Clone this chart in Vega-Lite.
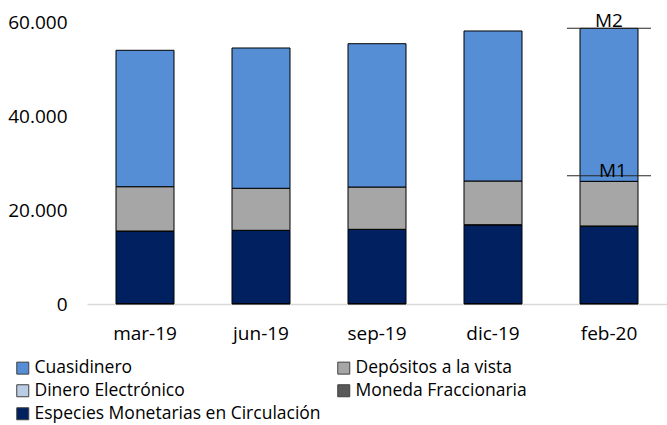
{
  "$schema": "https://vega.github.io/schema/vega-lite/v6.json",
  "width": 580,
  "height": 282,
  "autosize": {"type": "none"},
  "padding": {"left": 87, "top": 22, "right": 0, "bottom": 121},
  "config": {
    "locale": {"number": {"decimal": ",", "thousands": ".", "grouping": [3], "currency": ["$", ""]}},
    "view": {"stroke": null},
    "font": "Open Sans",
    "axis": {"grid": false, "ticks": false, "labelColor": "#000000", "labelFont": "Open Sans", "title": null}
  },
  "datasets": {
    "series": [
      {"fecha": "mar-19", "serie": "Especies Monetarias en Circulación", "valor": 15400},
      {"fecha": "mar-19", "serie": "Moneda Fraccionaria", "valor": 90},
      {"fecha": "mar-19", "serie": "Dinero Electrónico", "valor": 40},
      {"fecha": "mar-19", "serie": "Depósitos a la vista", "valor": 9430},
      {"fecha": "mar-19", "serie": "Cuasidinero", "valor": 29020},
      {"fecha": "jun-19", "serie": "Especies Monetarias en Circulación", "valor": 15550},
      {"fecha": "jun-19", "serie": "Moneda Fraccionaria", "valor": 90},
      {"fecha": "jun-19", "serie": "Dinero Electrónico", "valor": 40},
      {"fecha": "jun-19", "serie": "Depósitos a la vista", "valor": 8940},
      {"fecha": "jun-19", "serie": "Cuasidinero", "valor": 29850},
      {"fecha": "sep-19", "serie": "Especies Monetarias en Circulación", "valor": 15760},
      {"fecha": "sep-19", "serie": "Moneda Fraccionaria", "valor": 90},
      {"fecha": "sep-19", "serie": "Dinero Electrónico", "valor": 40},
      {"fecha": "sep-19", "serie": "Depósitos a la vista", "valor": 9000},
      {"fecha": "sep-19", "serie": "Cuasidinero", "valor": 30490},
      {"fecha": "dic-19", "serie": "Especies Monetarias en Circulación", "valor": 16740},
      {"fecha": "dic-19", "serie": "Moneda Fraccionaria", "valor": 90},
      {"fecha": "dic-19", "serie": "Dinero Electrónico", "valor": 40},
      {"fecha": "dic-19", "serie": "Depósitos a la vista", "valor": 9300},
      {"fecha": "dic-19", "serie": "Cuasidinero", "valor": 31920},
      {"fecha": "feb-20", "serie": "Especies Monetarias en Circulación", "valor": 16470},
      {"fecha": "feb-20", "serie": "Moneda Fraccionaria", "valor": 90},
      {"fecha": "feb-20", "serie": "Dinero Electrónico", "valor": 40},
      {"fecha": "feb-20", "serie": "Depósitos a la vista", "valor": 9500},
      {"fecha": "feb-20", "serie": "Cuasidinero", "valor": 32550}
    ],
    "marcas": [
      {"fecha": "feb-20", "etiqueta": "M2", "valor": 58650},
      {"fecha": "feb-20", "etiqueta": "M1", "valor": 27300}
    ]
  },
  "layer": [
    {
      "data": {"name": "series"},
      "mark": {"type": "bar", "stroke": "#000000", "strokeWidth": 1},
      "encoding": {
        "x": {
          "field": "fecha", "type": "nominal",
          "sort": ["mar-19", "jun-19", "sep-19", "dic-19", "feb-20"],
          "scale": {"paddingInner": 0.5, "paddingOuter": 0.25},
          "axis": {"labelAngle": 0, "labelFontSize": 19, "labelPadding": 20, "domainColor": "#D9D9D9", "domainWidth": 1.5, "title": null}
        },
        "y": {
          "field": "valor", "type": "quantitative", "stack": "zero",
          "scale": {"domain": [0, 60000]},
          "axis": {"values": [0, 20000, 40000, 60000], "format": ",d", "labelFontSize": 19, "labelPadding": 20, "domain": false, "title": null}
        },
        "color": {
          "field": "serie", "type": "nominal",
          "scale": {
            "domain": ["Cuasidinero", "Dinero Electrónico", "Especies Monetarias en Circulación", "Depósitos a la vista", "Moneda Fraccionaria"],
            "range": ["#558ED5", "#B9CDE5", "#002060", "#A6A6A6", "#595959"]
          },
          "legend": {
            "title": null, "orient": "none", "legendX": -73, "legendY": 337,
            "columns": 2, "columnPadding": 14, "rowPadding": 4,
            "symbolType": "square", "symbolSize": 144, "symbolStrokeColor": "#404040", "symbolStrokeWidth": 1,
            "labelFontSize": 17.5, "labelColor": "#000000", "labelOffset": 3, "labelLimit": 400, "labelFont": "Open Sans"
          }
        },
        "order": {"field": "serie", "sort": "descending"}
      }
    },
    {
      "data": {"name": "marcas"},
      "mark": {"type": "tick", "orient": "horizontal", "size": 84, "thickness": 1, "color": "#262626", "opacity": 1},
      "encoding": {
        "x": {"field": "fecha", "type": "nominal", "sort": ["mar-19", "jun-19", "sep-19", "dic-19", "feb-20"]},
        "y": {"field": "valor", "type": "quantitative"}
      }
    },
    {
      "data": {"name": "marcas"},
      "transform": [{"filter": "datum.etiqueta === 'M2'"}],
      "mark": {"type": "text", "baseline": "alphabetic", "dy": -1, "fontSize": 19, "color": "#000000", "font": "Open Sans"},
      "encoding": {
        "x": {"field": "fecha", "type": "nominal", "sort": ["mar-19", "jun-19", "sep-19", "dic-19", "feb-20"]},
        "y": {"field": "valor", "type": "quantitative"},
        "text": {"field": "etiqueta"}
      }
    },
    {
      "data": {"name": "marcas"},
      "transform": [{"filter": "datum.etiqueta === 'M1'"}],
      "mark": {"type": "text", "baseline": "alphabetic", "dy": 1, "dx": 4, "fontSize": 19, "color": "#000000", "font": "Open Sans"},
      "encoding": {
        "x": {"field": "fecha", "type": "nominal", "sort": ["mar-19", "jun-19", "sep-19", "dic-19", "feb-20"]},
        "y": {"field": "valor", "type": "quantitative"},
        "text": {"field": "etiqueta"}
      }
    }
  ]
}
